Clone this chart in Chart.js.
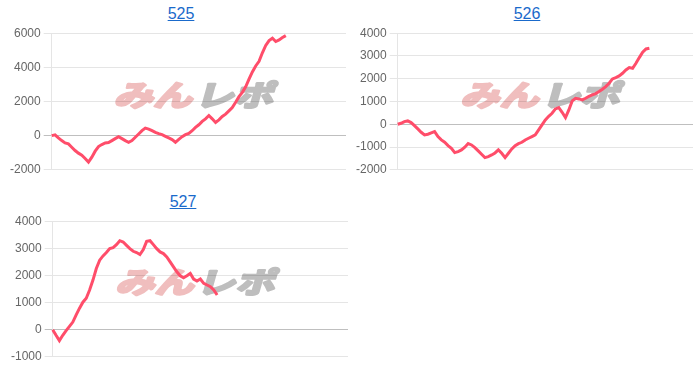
<!DOCTYPE html>
<html><head><meta charset="utf-8">
<script src="https://cdn.jsdelivr.net/npm/chart.js@4"></script>
<style>
html,body{margin:0;padding:0;background:#fff}
body{width:700px;height:372px;overflow:hidden;position:relative;font-family:"Liberation Sans",Arial,sans-serif}
.t{position:absolute;font-size:16px;line-height:18px;color:#1a6acb;text-decoration:underline;transform:translateX(-50%);white-space:nowrap}
.c{position:absolute}
</style></head><body>
<a class="t" style="left:181px;top:5px">525</a>
<a class="t" style="left:527px;top:5px">526</a>
<a class="t" style="left:183px;top:193px">527</a>
<div class="c" style="left:0;top:23px;width:350px;height:157px"><canvas id="c525"></canvas></div>
<div class="c" style="left:350px;top:23px;width:350px;height:157px"><canvas id="c526"></canvas></div>
<div class="c" style="left:0;top:211px;width:350px;height:156px"><canvas id="c527"></canvas></div>
<script>
// x categories (sample points along the game axis; axis hidden)
const xCount = 89;
const xLabels = [];
for (let i = 0; i < xCount; i++) xLabels.push(String(i));

// y tick values per chart
const ticks525 = [-2000, 0, 2000, 4000, 6000];
const ticks526 = [-2000, -1000, 0, 1000, 2000, 3000, 4000];
const ticks527 = [-1000, 0, 1000, 2000, 3000, 4000];

// series values
const values525 = [0, 50, -135, -290, -425, -485, -677, -870, -1025, -1141,
  -1334, -1547, -1257, -909, -638, -522, -425, -406, -290, -174,
  -58, -174, -290, -387, -290, -97, 97, 290, 445, 387,
  290, 193, 116, 58, -39, -135, -232, -387, -213, -58,
  58, 135, 290, 484, 638, 832, 986, 1180, 986, 774,
  928, 1122, 1257, 1450, 1644, 1953, 2282, 2534, 2862, 3307,
  3733, 4081, 4352, 4854, 5280, 5570, 5705, 5512, 5609, 5744, 5860];

const values526 = [0, 44, 117, 146, 73, -59, -205, -351, -468, -439,
  -381, -322, -542, -688, -791, -937, -1054, -1245, -1200, -1127,
  -1010, -849, -908, -1025, -1171, -1318, -1464, -1420, -1347, -1259,
  -1127, -1274, -1464, -1274, -1083, -937, -849, -791, -688, -615,
  -542, -468, -249, -29, 190, 351, 483, 673, 732, 527,
  293, 630, 1025, 1142, 1113, 1069, 1142, 1230, 1288, 1347,
  1435, 1537, 1654, 1801, 1991, 2050, 2123, 2240, 2386, 2489,
  2460, 2679, 2928, 3162, 3309, 3338];

const values527 = [0, -207, -403, -207, -37, 122, 281, 549, 793, 1013,
  1159, 1464, 1830, 2257, 2562, 2721, 2843, 2989, 3026, 3135,
  3282, 3233, 3111, 2989, 2891, 2843, 2769, 2952, 3257, 3282,
  3135, 2989, 2867, 2806, 2684, 2501, 2318, 2135, 1989, 1915,
  1989, 2074, 1867, 1793, 1867, 1708, 1647, 1586, 1464, 1280];

const watermark = {
  id: 'wm',
  beforeDraw(chart) {
    const a = chart.chartArea, ctx = chart.ctx;
    const cx = (a.left + a.right) / 2 - 2, cy = (a.top + a.bottom) / 2 - 8;
    ctx.save();
    ctx.translate(cx, cy);
    ctx.transform(1, 0, -0.28, 1, 0, 0);
    ctx.scale(1.35, 1);
    ctx.font = 'bold 29px "Noto Sans CJK JP"';
    ctx.textBaseline = 'middle';
    ctx.lineJoin = 'round';
    ctx.lineWidth = 2.5;
    ctx.textAlign = 'right';
    ctx.fillStyle = ctx.strokeStyle = 'rgb(240,190,190)';
    ctx.strokeText('みん', -1, 1);
    ctx.fillText('みん', -1, 1);
    ctx.textAlign = 'left';
    ctx.fillStyle = ctx.strokeStyle = 'rgb(190,190,190)';
    ctx.strokeText('レポ', 1, 1);
    ctx.fillText('レポ', 1, 1);
    ctx.restore();
  }
};

function makeChart(id, values, ticks, padL, padR) {
  const step = ticks[1] - ticks[0];
  new Chart(document.getElementById(id), {
    type: 'line',
    data: { labels: xLabels, datasets: [{
      data: values, borderColor: '#ff4d6a', borderWidth: 3,
      pointRadius: 0, fill: false, tension: 0
    }]},
    options: {
      animation: false, responsive: true, maintainAspectRatio: false,
      layout: { padding: { left: padL, right: padR, top: 10, bottom: 10 } },
      plugins: { legend: { display: false }, tooltip: { enabled: false }, title: { display: false } },
      scales: {
        x: { display: false },
        y: {
          min: ticks[0], max: ticks[ticks.length - 1],
          ticks: { stepSize: step, color: '#666', padding: 3, callback: v => String(v),
                   font: { size: 12, family: '"Liberation Sans", Arial, sans-serif' } },
          grid: { color: c => (c.tick && c.tick.value === 0) ? 'rgba(0,0,0,0.25)' : 'rgba(0,0,0,0.1)', tickLength: 8 },
          border: { color: 'rgba(0,0,0,0.1)' }
        }
      }
    },
    plugins: [watermark]
  });
}

makeChart('c525', values525, ticks525, 7, 4);
makeChart('c526', values526, ticks526, 3, 7);
makeChart('c527', values527, ticks527, 8, 2);
</script>
</body></html>
